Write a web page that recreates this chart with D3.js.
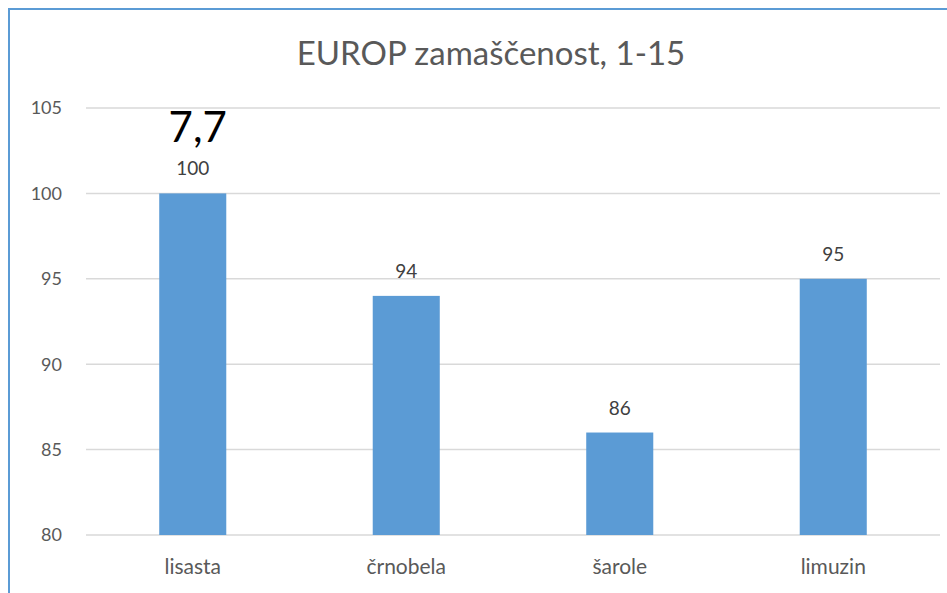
<!DOCTYPE html>
<html>
<head>
<meta charset="utf-8">
<script src="https://cdn.jsdelivr.net/npm/d3@7"></script>
<style>
  html, body { margin: 0; padding: 0; background: #fff; }
  svg { display: block; font-family: Lato, "Open Sans", sans-serif; }
</style>
</head>
<body>
<div id="chart"></div>
<script>
// Data
const breeds = ["lisasta", "črnobela", "šarole", "limuzin"];
const scores = [100, 94, 86, 95];
const yTicks = [80, 85, 90, 95, 100, 105];
const chartTitle = "EUROP zamaščenost, 1-15";
const note = "7,7";

const width = 947;
const height = 593;
const margin = { top: 108, right: 7, bottom: 58, left: 86 };

const svg = d3.select("#chart")
  .append("svg")
  .attr("width", width)
  .attr("height", height);

// frame (cut off on the right and bottom, like the screenshot)
svg.append("path")
  .attr("d", `M9,${height + 2} V9 H${width + 2}`)
  .attr("fill", "none")
  .attr("stroke", "#5b9bd5")
  .attr("stroke-width", 2);

const x = d3.scaleBand()
  .domain(breeds)
  .range([margin.left, width - margin.right]);

const y = d3.scaleLinear()
  .domain([80, 105])
  .range([height - margin.bottom, margin.top]);

// gridlines
svg.append("g")
  .selectAll("line")
  .data(yTicks)
  .join("line")
  .attr("x1", margin.left)
  .attr("x2", width - margin.right)
  .attr("y1", d => y(d))
  .attr("y2", d => y(d))
  .attr("stroke", "#d9d9d9")
  .attr("stroke-width", 1.5);

// y axis labels
svg.append("g")
  .selectAll("text")
  .data(yTicks)
  .join("text")
  .attr("x", 62)
  .attr("y", d => y(d))
  .attr("dy", "0.35em")
  .attr("text-anchor", "end")
  .attr("fill", "#595959")
  .attr("font-size", 18)
  .text(d => d);

// bars
const barW = x.bandwidth() * 0.314;
const rows = breeds.map((b, i) => ({ name: b, value: scores[i] }));

svg.append("g")
  .selectAll("rect")
  .data(rows)
  .join("rect")
  .attr("x", d => x(d.name) + x.bandwidth() / 2 - barW / 2)
  .attr("width", barW)
  .attr("y", d => y(d.value))
  .attr("height", d => y(80) - y(d.value))
  .attr("fill", "#5b9bd5");

// value labels
svg.append("g")
  .selectAll("text")
  .data(rows)
  .join("text")
  .attr("x", d => x(d.name) + x.bandwidth() / 2)
  .attr("y", d => y(d.value) - 18)
  .attr("text-anchor", "middle")
  .attr("fill", "#404040")
  .attr("font-size", 19)
  .text(d => d.value);

// category labels
svg.append("g")
  .selectAll("text")
  .data(breeds)
  .join("text")
  .attr("x", d => x(d) + x.bandwidth() / 2)
  .attr("y", 574)
  .attr("text-anchor", "middle")
  .attr("fill", "#595959")
  .attr("font-size", 21)
  .text(d => d);

// title
svg.append("text")
  .attr("x", 491)
  .attr("y", 65)
  .attr("text-anchor", "middle")
  .attr("fill", "#595959")
  .attr("font-size", 33)
  .text(chartTitle);

// big note above first bar
svg.append("text")
  .attr("x", x(breeds[0]) + x.bandwidth() / 2 + 5)
  .attr("y", 142)
  .attr("text-anchor", "middle")
  .attr("fill", "#000")
  .attr("font-size", 42)
  .text(note);
</script>
</body>
</html>
